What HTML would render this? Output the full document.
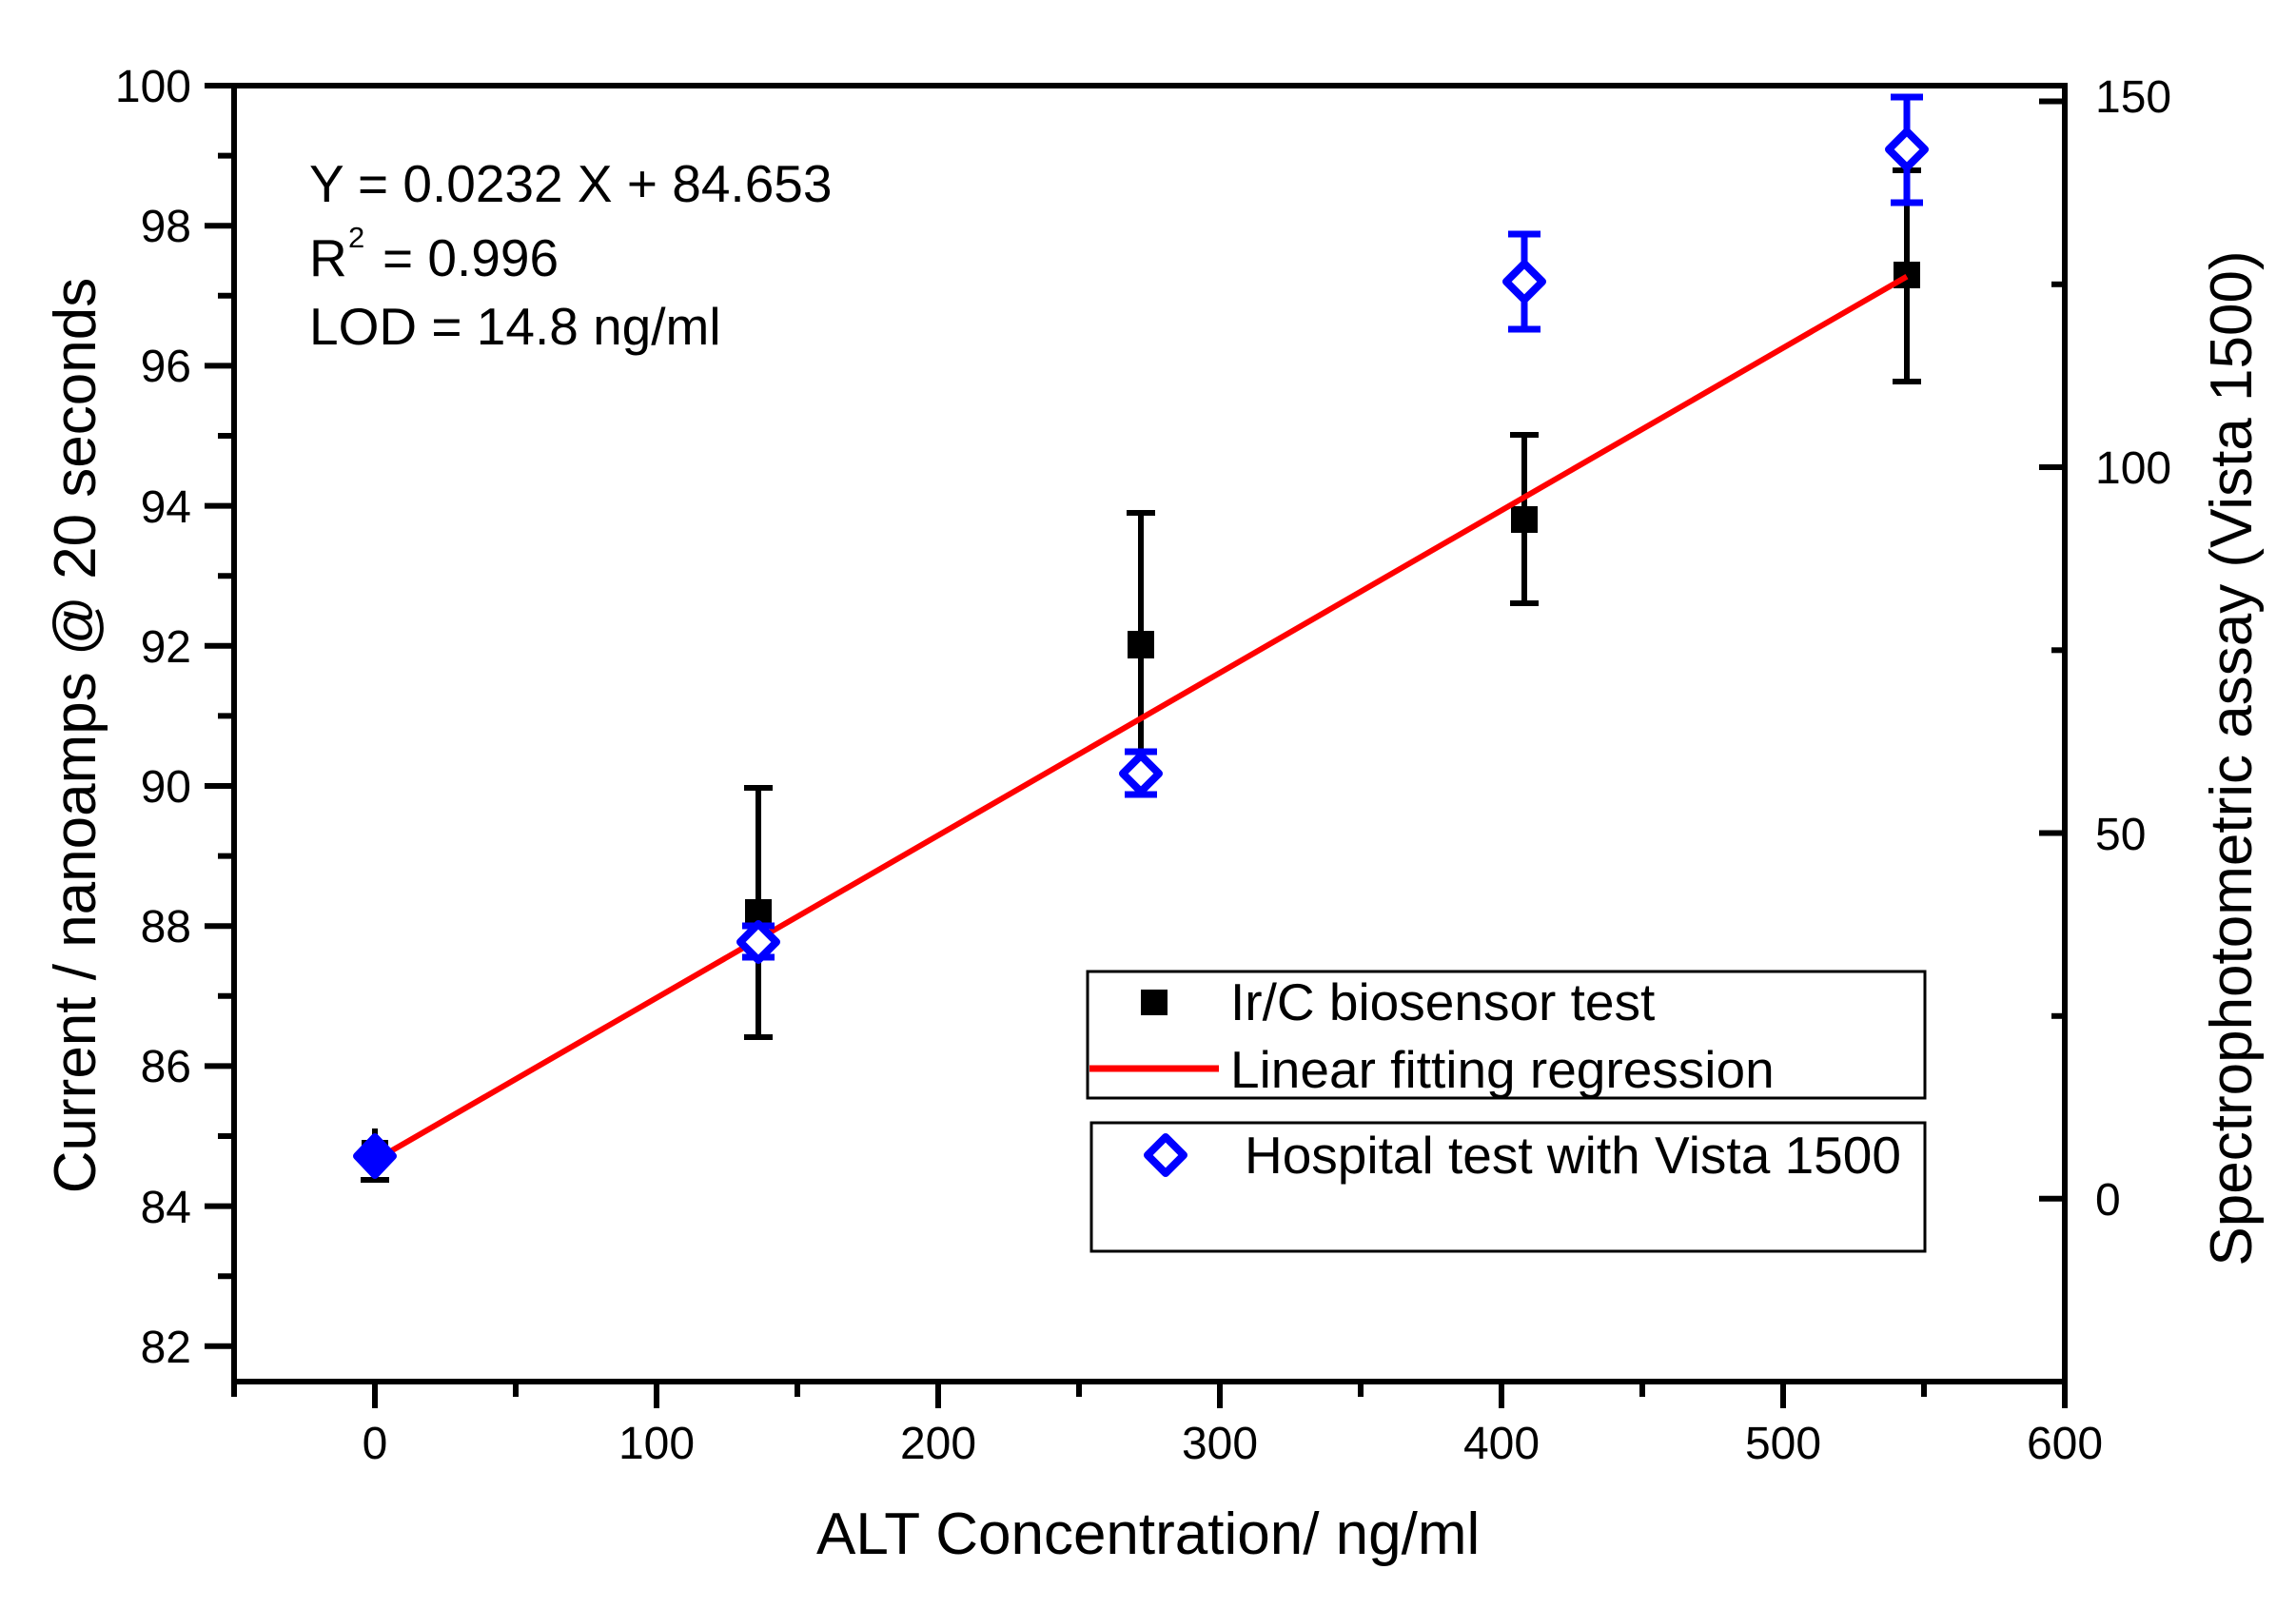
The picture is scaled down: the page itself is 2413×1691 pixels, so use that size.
<!DOCTYPE html>
<html>
<head>
<meta charset="utf-8">
<style>
  html, body { margin:0; padding:0; background:#fff; }
  svg { display:block; }
  text { font-family: "Liberation Sans", Arial, sans-serif; fill:#000; }
</style>
</head>
<body>
<svg width="2413" height="1691" viewBox="0 0 2413 1691" xmlns="http://www.w3.org/2000/svg">
  <rect x="0" y="0" width="2413" height="1691" fill="#fff"/>

  <!-- Axes frame -->
  <g stroke="#000" stroke-width="6" fill="none" stroke-linecap="butt">
    <line x1="246" y1="90" x2="2170" y2="90"/>
    <line x1="246" y1="87" x2="246" y2="1468"/>
    <line x1="243" y1="1452" x2="2173" y2="1452"/>
    <line x1="2170" y1="87" x2="2170" y2="1480"/>
  </g>

  <!-- Left Y ticks -->
  <g stroke="#000" stroke-width="6">
    <line x1="215" y1="90" x2="246" y2="90"/>
    <line x1="229" y1="163.6" x2="246" y2="163.6"/>
    <line x1="215" y1="237.2" x2="246" y2="237.2"/>
    <line x1="229" y1="310.8" x2="246" y2="310.8"/>
    <line x1="215" y1="384.4" x2="246" y2="384.4"/>
    <line x1="229" y1="458" x2="246" y2="458"/>
    <line x1="215" y1="531.6" x2="246" y2="531.6"/>
    <line x1="229" y1="605.2" x2="246" y2="605.2"/>
    <line x1="215" y1="678.8" x2="246" y2="678.8"/>
    <line x1="229" y1="752.4" x2="246" y2="752.4"/>
    <line x1="215" y1="826" x2="246" y2="826"/>
    <line x1="229" y1="899.6" x2="246" y2="899.6"/>
    <line x1="215" y1="973.2" x2="246" y2="973.2"/>
    <line x1="229" y1="1046.8" x2="246" y2="1046.8"/>
    <line x1="215" y1="1120.4" x2="246" y2="1120.4"/>
    <line x1="229" y1="1194" x2="246" y2="1194"/>
    <line x1="215" y1="1267.6" x2="246" y2="1267.6"/>
    <line x1="229" y1="1341.2" x2="246" y2="1341.2"/>
    <line x1="215" y1="1414.8" x2="246" y2="1414.8"/>
  </g>
  <g font-size="48" text-anchor="end">
    <text x="201" y="107">100</text>
    <text x="201" y="254">98</text>
    <text x="201" y="401">96</text>
    <text x="201" y="549">94</text>
    <text x="201" y="696">92</text>
    <text x="201" y="843">90</text>
    <text x="201" y="990">88</text>
    <text x="201" y="1137">86</text>
    <text x="201" y="1285">84</text>
    <text x="201" y="1432">82</text>
  </g>

  <!-- Bottom X ticks -->
  <g stroke="#000" stroke-width="6">
    <line x1="246" y1="1452" x2="246" y2="1468"/>
    <line x1="394" y1="1452" x2="394" y2="1480"/>
    <line x1="542" y1="1452" x2="542" y2="1468"/>
    <line x1="690" y1="1452" x2="690" y2="1480"/>
    <line x1="838" y1="1452" x2="838" y2="1468"/>
    <line x1="986" y1="1452" x2="986" y2="1480"/>
    <line x1="1134" y1="1452" x2="1134" y2="1468"/>
    <line x1="1282" y1="1452" x2="1282" y2="1480"/>
    <line x1="1430" y1="1452" x2="1430" y2="1468"/>
    <line x1="1578" y1="1452" x2="1578" y2="1480"/>
    <line x1="1726" y1="1452" x2="1726" y2="1468"/>
    <line x1="1874" y1="1452" x2="1874" y2="1480"/>
    <line x1="2022" y1="1452" x2="2022" y2="1468"/>
  </g>
  <g font-size="48" text-anchor="middle">
    <text x="394" y="1533">0</text>
    <text x="690" y="1533">100</text>
    <text x="986" y="1533">200</text>
    <text x="1282" y="1533">300</text>
    <text x="1578" y="1533">400</text>
    <text x="1874" y="1533">500</text>
    <text x="2170" y="1533">600</text>
  </g>

  <!-- Right Y ticks (inward) -->
  <g stroke="#000" stroke-width="6">
    <line x1="2143" y1="106.5" x2="2170" y2="106.5"/>
    <line x1="2156" y1="298.8" x2="2170" y2="298.8"/>
    <line x1="2143" y1="491" x2="2170" y2="491"/>
    <line x1="2156" y1="683.3" x2="2170" y2="683.3"/>
    <line x1="2143" y1="875.5" x2="2170" y2="875.5"/>
    <line x1="2156" y1="1067.8" x2="2170" y2="1067.8"/>
    <line x1="2143" y1="1259.8" x2="2170" y2="1259.8"/>
  </g>
  <g font-size="48" text-anchor="start">
    <text x="2202" y="118">150</text>
    <text x="2202" y="508">100</text>
    <text x="2202" y="893">50</text>
    <text x="2202" y="1277">0</text>
  </g>

  <!-- Axis titles -->
  <text x="858" y="1633" font-size="62">ALT Concentration/ ng/ml</text>
  <text transform="translate(100,773) rotate(-90)" font-size="62" text-anchor="middle">Current / nanoamps @ 20 seconds</text>
  <text transform="translate(2366,797) rotate(-90)" font-size="62" text-anchor="middle">Spectrophotometric assay (Vista 1500)</text>

  <!-- Equation text -->
  <g font-size="55">
    <text x="325" y="212">Y = 0.0232 X + 84.653</text>
    <text x="325" y="290">R</text>
    <text x="366" y="260" font-size="31">2</text>
    <text x="402" y="290">= 0.996</text>
    <text x="325" y="362">LOD = 14.8 ng/ml</text>
  </g>

  <!-- Black series: error bars + squares -->
  <g stroke="#000" stroke-width="6" fill="none">
    <line x1="394" y1="1186" x2="394" y2="1240"/>
    <line x1="379" y1="1240" x2="409" y2="1240"/>
    <line x1="797" y1="828" x2="797" y2="1090"/>
    <line x1="782" y1="828" x2="812" y2="828"/>
    <line x1="782" y1="1090" x2="812" y2="1090"/>
    <line x1="1199" y1="539" x2="1199" y2="815"/>
    <line x1="1184" y1="539" x2="1214" y2="539"/>
    <line x1="1184" y1="815" x2="1214" y2="815"/>
    <line x1="1602" y1="457" x2="1602" y2="634"/>
    <line x1="1587" y1="457" x2="1617" y2="457"/>
    <line x1="1587" y1="634" x2="1617" y2="634"/>
    <line x1="2004" y1="179" x2="2004" y2="401"/>
    <line x1="1989" y1="179" x2="2019" y2="179"/>
    <line x1="1989" y1="401" x2="2019" y2="401"/>
  </g>
  <g fill="#000">
    <rect x="380" y="1198" width="28" height="28"/>
    <rect x="783" y="945" width="28" height="28"/>
    <rect x="1185" y="663" width="28" height="29"/>
    <rect x="1588" y="532" width="28" height="28"/>
    <rect x="1990" y="275" width="28" height="28"/>
  </g>

  <!-- Red regression line -->
  <line x1="394" y1="1219.5" x2="2004" y2="290.6" stroke="#ff0000" stroke-width="6"/>

  <!-- Blue series: error bars + diamonds -->
  <g stroke="#0000ff" stroke-width="7" fill="none">
    <line x1="797" y1="973" x2="797" y2="1006"/>
    <line x1="780" y1="973" x2="814" y2="973"/>
    <line x1="780" y1="1006" x2="814" y2="1006"/>
    <line x1="1199" y1="790" x2="1199" y2="835"/>
    <line x1="1182" y1="790" x2="1216" y2="790"/>
    <line x1="1182" y1="835" x2="1216" y2="835"/>
    <line x1="1602" y1="246" x2="1602" y2="346"/>
    <line x1="1585" y1="246" x2="1619" y2="246"/>
    <line x1="1585" y1="346" x2="1619" y2="346"/>
    <line x1="2004" y1="102" x2="2004" y2="213"/>
    <line x1="1987" y1="102" x2="2021" y2="102"/>
    <line x1="1987" y1="213" x2="2021" y2="213"/>
  </g>
  <g stroke="#0000ff" stroke-width="8" fill="#fff" stroke-linejoin="round">
    <path d="M394 1195 L413 1215 L394 1235 L375 1215 Z" fill="#0000ff"/>
    <path d="M797 971 L816 990 L797 1009 L778 990 Z"/>
    <path d="M1199 794 L1218 813 L1199 832 L1180 813 Z"/>
    <path d="M1602 277 L1621 296 L1602 315 L1583 296 Z"/>
    <path d="M2004 138 L2023 157 L2004 176 L1985 157 Z"/>
  </g>

  <!-- Legend box 1 -->
  <rect x="1143" y="1021" width="880" height="133" fill="#fff" stroke="#000" stroke-width="3"/>
  <rect x="1199" y="1040" width="28" height="27" fill="#000"/>
  <text x="1293" y="1072" font-size="55">Ir/C biosensor test</text>
  <line x1="1145" y1="1123" x2="1281" y2="1123" stroke="#ff0000" stroke-width="7"/>
  <text x="1293" y="1143" font-size="55">Linear fitting regression</text>

  <!-- Legend box 2 -->
  <rect x="1147" y="1180" width="876" height="135" fill="#fff" stroke="#000" stroke-width="3"/>
  <path d="M1225 1195 L1244 1214 L1225 1233 L1206 1214 Z" stroke="#0000ff" stroke-width="8" fill="#fff" stroke-linejoin="round"/>
  <text x="1308" y="1233" font-size="55">Hospital test with Vista 1500</text>
</svg>
</body>
</html>
